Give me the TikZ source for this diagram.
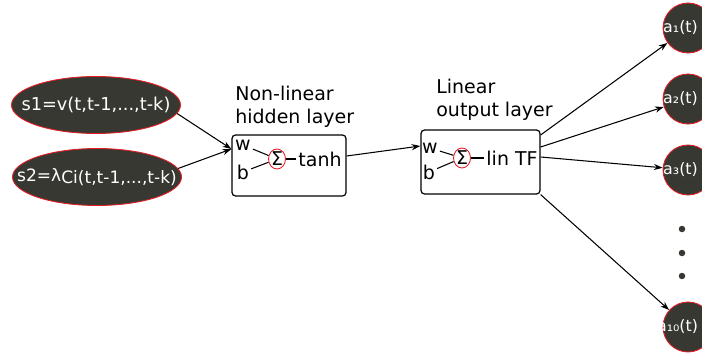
\documentclass[tikz,border=0pt]{standalone}
\usepackage{fontspec}
\setmainfont{DejaVu Sans}
\usepackage{xcolor}
\definecolor{nodegray}{RGB}{56,56,51}
\definecolor{rimred}{RGB}{228,30,36}
\usepackage{tikz}
\usetikzlibrary{arrows.meta, positioning, shapes.geometric}

\begin{document}
\begin{tikzpicture}[>={Stealth[length=5pt,width=3.5pt]},
  signal/.style={
    ellipse, draw=rimred, line width=0.5pt, fill=nodegray,
    minimum width=3.38cm, minimum height=1.14cm, inner sep=0pt,
    font=\fontsize{10.1}{12}\selectfont, text=white,
  },
  output/.style={
    circle, draw=rimred, line width=0.5pt, fill=nodegray,
    minimum size=1cm, inner sep=0pt,
    font=\fontsize{9}{11}\selectfont, text=white,
  },
  layer/.style={
    rectangle, rounded corners=2pt, draw=black, line width=0.7pt,
  },
  sumnode/.style={
    ellipse, draw=rimred, line width=0.5pt,
    minimum width=0.32cm, minimum height=0.4cm, inner sep=0pt,
    font=\fontsize{10.8}{13}\selectfont,
  },
  txt/.style={
    inner sep=1pt, font=\fontsize{10.8}{13}\selectfont,
  },
  layerlabel/.style={
    align=left, inner sep=0pt, anchor=north west,
    font=\fontsize{10.8}{13}\selectfont,
  },
  arr/.style={
    ->, line width=0.6pt, color=black,
  },
  link/.style={
    line width=0.6pt, color=black,
  },
  dot/.style={
    circle, fill=nodegray, minimum size=0.13cm, inner sep=0pt,
  },
]
\useasboundingbox (0,0) rectangle (14.04,7.1);

% --- Input signals ---
\node[signal] (s1) at (1.92, 5.0) {\makebox[0pt]{s1=v(t,t-1,...,t-k)}};
\node[signal] (s2) at (1.94, 3.56) {\makebox[0pt]{\fontsize{9.7}{12}\selectfont s2=λ\raisebox{-0.05cm}{Ci(t,t-1,...,t-k)}}};

% --- Hidden layer ---
\node[layerlabel] (hlabel) at (4.7, 5.38) {Non-linear\\hidden layer};
\node[layer, minimum width=2.28cm, minimum height=1.22cm] (box1) at (5.78, 3.79) {};
\node[txt] (w1) at (4.86, 4.2) {w};
\node[txt] (b1) at (4.86, 3.66) {b};
\node[sumnode] (sig1) at (5.54, 3.92) {Σ};
\node[txt] (tanh) at (6.4, 3.92) {tanh};
\draw[link] (w1) -- (sig1);
\draw[link] (b1) -- (sig1);
\draw[link] (sig1) -- (tanh);

% --- Output layer ---
\node[layerlabel] (olabel) at (8.72, 5.52) {Linear\\output layer};
\node[layer, minimum width=2.38cm, minimum height=1.28cm] (box2) at (9.61, 3.86) {};
\node[txt] (w2) at (8.6, 4.14) {w};
\node[txt] (b2) at (8.58, 3.66) {b};
\node[sumnode] (sig2) at (9.24, 3.94) {Σ};
\node[txt] (lin) at (10.24, 3.94) {lin TF};
\draw[link] (w2) -- (sig2);
\draw[link] (b2) -- (sig2);
\draw[link] (sig2) -- (lin);

% --- Outputs ---
\node[output] (a1) at (13.76, 6.54) {\makebox[0pt]{a₁(t)\hspace*{0.3cm}}};
\node[output] (a2) at (13.76, 5.12) {\makebox[0pt]{a₂(t)\hspace*{0.3cm}}};
\node[output] (a3) at (13.76, 3.7) {\makebox[0pt]{a₃(t)\hspace*{0.3cm}}};
\node[output] (a10) at (13.76, 0.56) {\makebox[0pt]{a₁₀(t)\hspace*{0.42cm}}};
\node[dot] (d1) at (13.64, 2.52) {};
\node[dot] (d2) at (13.64, 2.04) {};
\node[dot] (d3) at (13.64, 1.58) {};

% --- Connections ---
\coordinate (in1) at ([yshift=0.33cm]box1.west);
\draw[arr] (s1.-6) -- (in1);
\draw[arr] (s2.6) -- (in1);
\draw[arr] ([yshift=0.19cm]box1.east) -- ([yshift=0.32cm]box2.west);
\draw[arr] ([yshift=0.54cm]box2.east) -- (a1);
\draw[arr] ([yshift=0.3cm]box2.east) -- (a2);
\draw[arr] ([yshift=0.1cm]box2.east) -- (a3);
\draw[arr] (box2.south east) -- (a10);

\end{tikzpicture}
\end{document}
